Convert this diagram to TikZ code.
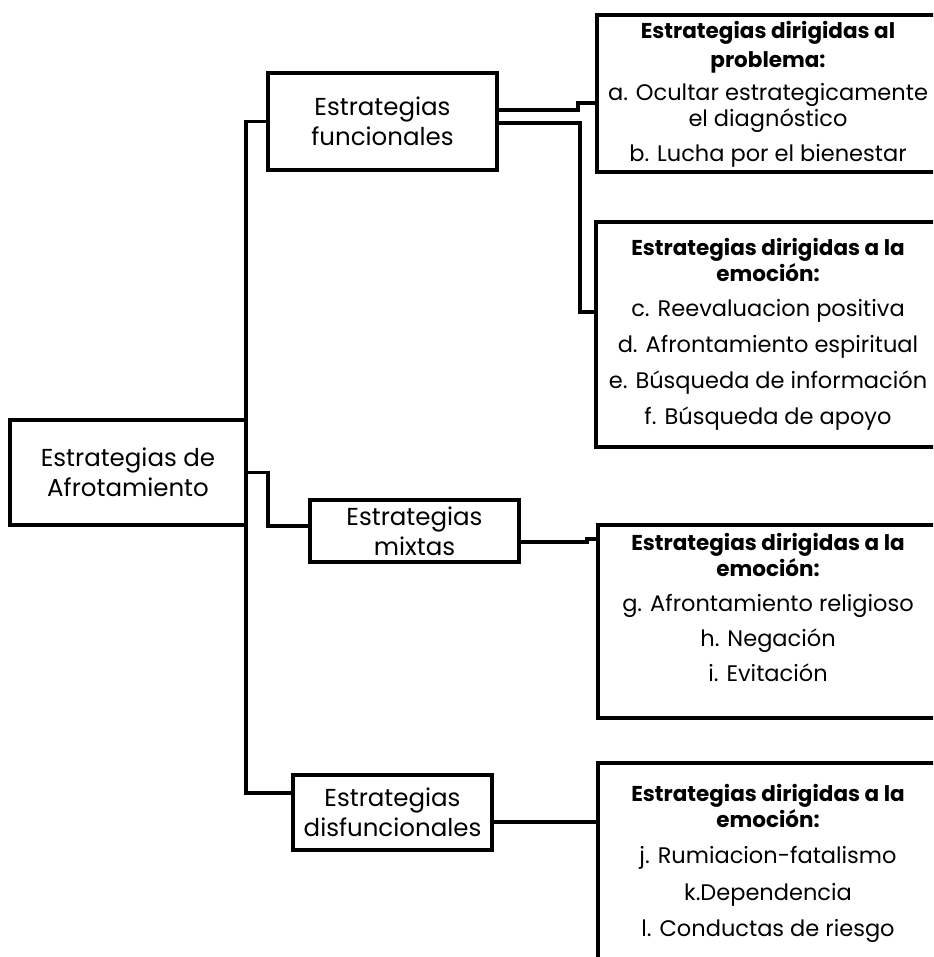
\documentclass[tikz,border=0pt]{standalone}
\usepackage{fontspec}
\setmainfont{Poppins}
\usetikzlibrary{calc}
\newcommand{\encab}[1]{{\fontsize{21.5}{26}\selectfont\bfseries #1}}

\begin{document}
\begin{tikzpicture}[x=1pt,y=-1pt]
\useasboundingbox (0,0) rectangle (933,957);
\clip (0,0) rectangle (933,957);
\begin{scope}[every node/.style={draw,line width=4pt,outer sep=0pt,inner sep=0pt,align=center,font=\fontsize{24.5}{30}\selectfont}]
    \node[minimum width=236pt,minimum height=105pt] (R) at (128,472.5) {Estrategias de\\Afrotamiento};
    \node[minimum width=229pt,minimum height=97pt] (F) at (382.5,121.5) {Estrategias\\funcionales};
    \node[minimum width=209pt,minimum height=62pt] (M) at (414.5,531) {Estrategias\\mixtas};
    \node[minimum width=199pt,minimum height=75pt] (D) at (392.5,812.5) {Estrategias\\disfuncionales};
\end{scope}
\begin{scope}[every node/.style={draw,line width=4pt,outer sep=0pt,inner sep=0pt,minimum width=345pt}]
    \node[minimum height=157pt] (P) at (769.5,93.5) {};
    \node[minimum height=225pt] (E1) at (768.5,334.5) {};
    \node[minimum height=193pt] (E2) at (770.5,621.5) {};
    \node[minimum height=210pt] (E3) at (770.5,868) {};
\end{scope}
\begin{scope}[every node/.style={align=center,inner sep=0pt,font=\fontsize{22.5}{26}\selectfont}]
    \node (Pt) at (768,94) {\encab{Estrategias dirigidas al}\\[3pt]\encab{problema:}\\[7pt]a. Ocultar estrategicamente\\el diagnóstico\\[9pt]b. Lucha por el bienestar};
    \node (E1t) at (768,334.5) {\encab{Estrategias dirigidas a la}\\\encab{emoción:}\\[9pt]c. Reevaluacion positiva\\[10pt]d. Afrontamiento espiritual\\[10pt]e. Búsqueda de información\\[10pt]f. Búsqueda de apoyo};
    \node (E2t) at (768,607) {\encab{Estrategias dirigidas a la}\\\encab{emoción:}\\[9pt]g. Afrontamiento religioso\\[9pt]h. Negación\\[9pt]i. Evitación};
    \node (E3t) at (768,863.5) {\encab{Estrategias dirigidas a la}\\\encab{emoción:}\\[10pt]j. Rumiacion-fatalismo\\[11pt]k.Dependencia\\[10pt]l. Conductas de riesgo};
\end{scope}
\begin{scope}[line width=3.5pt]
    \draw (F.west) -| (R.east) |- ([yshift=19.5pt]D.west);
    \draw (R.east) -- ++(22,0) |- ([yshift=5pt]M.west);
    \draw ([yshift=11.5pt]F.east) -- ++(81,0) |- ([yshift=-9.5pt]P.west);
    \draw ([yshift=-1.5pt]F.east) -- ++(83,0) |- ([yshift=22.5pt]E1.west);
    \draw ([yshift=-11pt]M.east) -- ++(68,0) |- ([yshift=82.5pt]E2.west);
    \draw ([yshift=-9.5pt]D.east) -- ([yshift=-9.5pt]D.east -| E3.west);
\end{scope}
\end{tikzpicture}
\end{document}
